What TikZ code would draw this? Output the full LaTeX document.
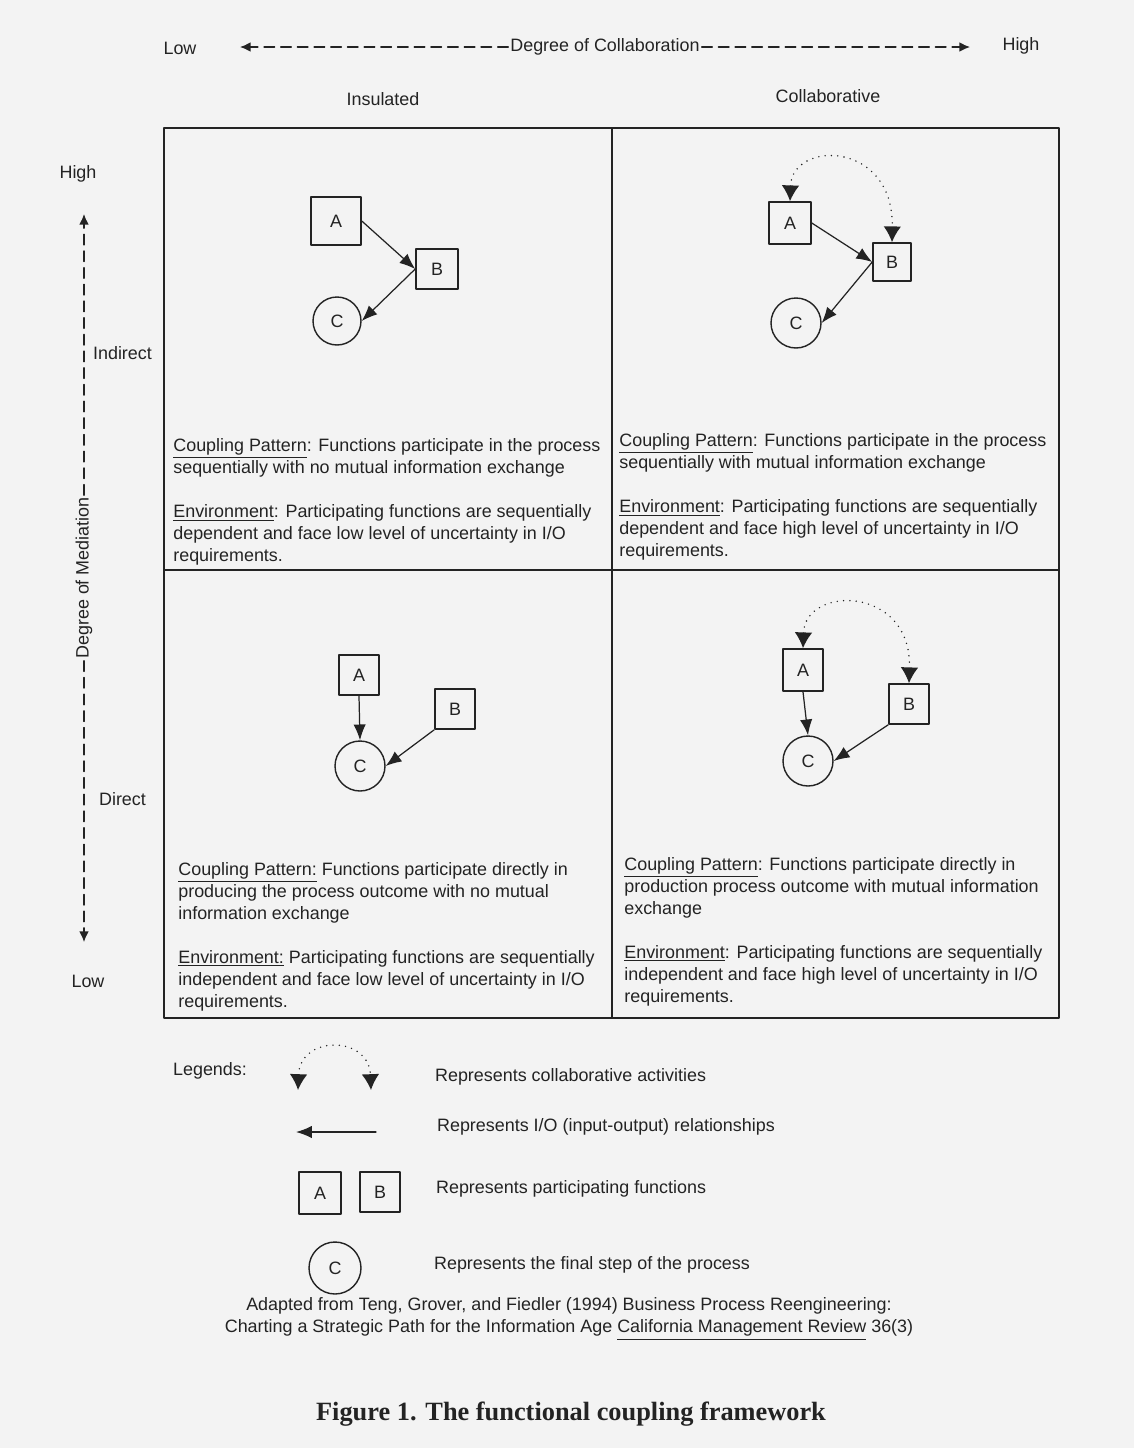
\documentclass[tikz,border=0pt]{standalone}
\usepackage{fontspec}
\setmainfont{Liberation Sans}
\newfontfamily\capfont{Liberation Serif}
\usetikzlibrary{arrows.meta}
\definecolor{pagegray}{RGB}{243,243,243}
\definecolor{ink}{RGB}{35,35,35}
\newcommand{\qtext}{\fontsize{10.2}{12.5}\selectfont}

\begin{document}
\begin{tikzpicture}[x=0.02cm,y=-0.02cm, line cap=round, line join=round, color=ink,
  fn/.style={draw, line width=0.9pt, minimum size=0.8cm, inner sep=0pt, font=\qtext},
  fin/.style={draw, circle, line width=0.8pt, minimum size=1cm, inner sep=0pt, font=\qtext},
  io/.style={line width=0.7pt, -{Latex[length=9pt,width=7pt]}},
  collab/.style={line width=0.9pt, dash pattern=on 0pt off 3.6pt, {Latex[length=9pt,width=10pt]}-{Latex[length=9pt,width=10pt]}},
  axis/.style={line width=0.8pt, dash pattern=on 6pt off 3.5pt, -{Latex[length=6pt,width=5.5pt]}},
  txt/.style={anchor=north west, align=left, inner sep=0pt, font=\qtext},
  lab/.style={inner sep=1pt, font=\qtext}]
\fill[pagegray] (0,0) rectangle (1134,1448);

% axes
\node[lab] (lowX) at (180,48) {Low};
\node[lab] (highX) at (1021,46) {High};
\node[lab] (clab) at (605,47) {Degree of Collaboration};
\coordinate (cLow) at (240,47);
\coordinate (cHigh) at (970,47);
\draw[axis] (clab.west) -- (cLow);
\draw[axis] (clab.east) -- (cHigh);
\node[lab] (ins) at (383,99) {Insulated};
\node[lab] (col) at (828,96) {Collaborative};

\node[lab] (highY) at (78,174) {High};
\node[lab] (lowY) at (88,981) {Low};
\node[lab, rotate=90] (mlab) at (84,578) {Degree of Mediation};
\coordinate (mHigh) at (84,214);
\coordinate (mLow) at (84,942);
\draw[axis] (mlab.east) -- (mHigh);
\draw[axis] (mlab.west) -- (mLow);
\node[lab, anchor=west] (indir) at (91,353) {Indirect};
\node[lab, anchor=west] (dir) at (97,799) {Direct};

% grid
\draw[line width=1.1pt] (164,128) rectangle (1059,1018);
\draw[line width=1.1pt] (612,128) -- (612,1018);
\draw[line width=1.1pt] (164,570) -- (1059,570);

% insulated / indirect
\node[fn, minimum width=1cm, minimum height=0.96cm] (a1) at (336,221) {A};
\node[fn, minimum width=0.84cm] (b1) at (437,269) {B};
\node[fin, minimum size=0.96cm] (c1) at (337,321) {C};
\draw[io] (a1.east) -- (b1.west);
\draw[io] (b1.west) -- (c1.east);
\node[txt] (t1) at (173,438) {\underline{Coupling Pattern}: Functions participate in the process\\
sequentially with no mutual information exchange\\[12.5pt]
\underline{Environment}: Participating functions are sequentially\\
dependent and face low level of uncertainty in I/O\\
requirements.};

% collaborative / indirect
\node[fn, minimum size=0.84cm] (a2) at (790,223) {A};
\node[fn, minimum size=0.76cm] (b2) at (892,262) {B};
\node[fin] (c2) at (796,323) {C};
\draw[io] (a2.east) -- (b2.west);
\draw[io] (b2.west) -- (c2.east);
\draw[collab] (a2.north) .. controls (792,140) and (894,140) .. (b2.north);
\node[txt] (t2) at (619,433) {\underline{Coupling Pattern}: Functions participate in the process\\
sequentially with mutual information exchange\\[12.5pt]
\underline{Environment}: Participating functions are sequentially\\
dependent and face high level of uncertainty in I/O\\
requirements.};

% insulated / direct
\node[fn] (a3) at (359,675) {A};
\node[fn] (b3) at (455,709) {B};
\node[fin] (c3) at (360,766) {C};
\draw[io] (a3.south) -- (c3.north);
\draw[io] (b3.south west) -- (c3.east);
\node[txt] (t3) at (178,862) {\underline{Coupling Pattern:} Functions participate directly in\\
producing the process outcome with no mutual\\
information exchange\\[12.5pt]
\underline{Environment:} Participating functions are sequentially\\
independent and face low level of uncertainty in I/O\\
requirements.};

% collaborative / direct
\node[fn, minimum height=0.84cm] (a4) at (803,670) {A};
\node[fn] (b4) at (909,704) {B};
\node[fin] (c4) at (808,761) {C};
\draw[io] (a4.south) -- (c4.north);
\draw[io] (b4.south west) -- (c4.east);
\draw[collab] (a4.north) .. controls (805,585) and (912,585) .. (b4.north);
\node[txt] (t4) at (624,857) {\underline{Coupling Pattern}: Functions participate directly in\\
production process outcome with mutual information\\
exchange\\[12.5pt]
\underline{Environment}: Participating functions are sequentially\\
independent and face high level of uncertainty in I/O\\
requirements.};

% legends
\node[lab] (leg) at (210,1071) {Legends:};
\coordinate (legL) at (298,1090);
\coordinate (legR) at (371,1090);
\draw[collab] (legL) .. controls (300,1035) and (369,1035) .. (legR);
\node[lab, anchor=west] (r1) at (433,1077) {Represents collaborative activities};
\coordinate (ioS) at (376,1132);
\coordinate (ioE) at (296,1132);
\draw[io] (ioS) -- (ioE);
\node[lab, anchor=west] (r2) at (435,1127) {Represents I/O (input-output) relationships};
\node[fn, minimum size=0.84cm] (la) at (320,1193) {A};
\node[fn] (lb) at (380,1192) {B};
\node[lab, anchor=west] (r3) at (434,1189) {Represents participating functions};
\node[fin, minimum size=1.04cm] (lc) at (335,1268) {C};
\node[lab, anchor=west] (r4) at (432,1265) {Represents the final step of the process};

% source
\node[lab, align=center] (src) at (569,1319) {Adapted from Teng, Grover, and Fiedler (1994) Business Process Reengineering:\\
Charting a Strategic Path for the Information Age \underline{California Management Review} 36(3)};
\node[inner sep=0pt, font=\capfont\bfseries\fontsize{15}{18}\selectfont] (fig) at (571,1414) {Figure 1. The functional coupling framework};
\end{tikzpicture}
\end{document}
